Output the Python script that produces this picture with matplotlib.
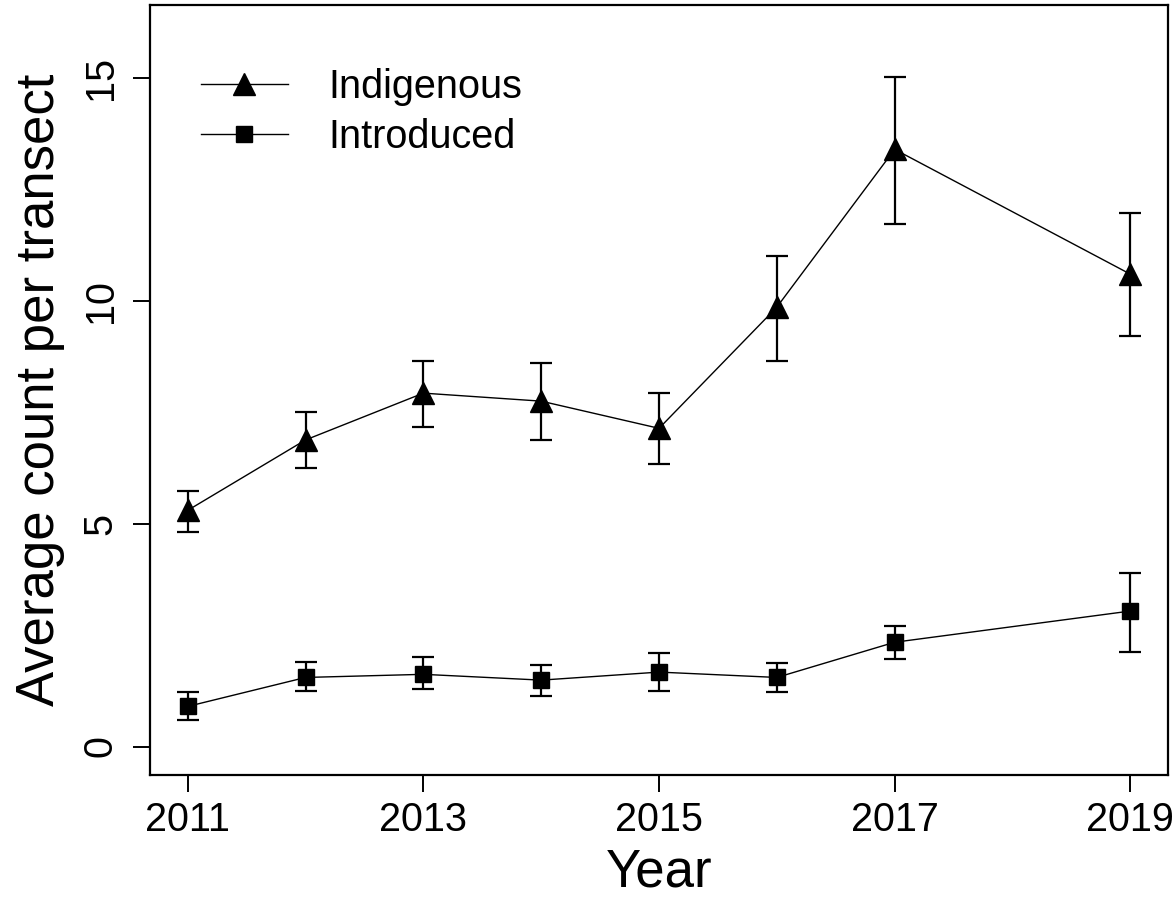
import numpy as np
import matplotlib
matplotlib.use("Agg")
import matplotlib.pyplot as plt

plt.rcParams["font.family"] = ["Liberation Sans", "DejaVu Sans"]

years = [2011, 2012, 2013, 2014, 2015, 2016, 2017, 2019]

# mean count per transect with lower / upper error bar ends
indig_mean = [5.30, 6.88, 7.93, 7.75, 7.14, 9.86, 13.40, 10.60]
indig_lo = [4.82, 6.24, 7.18, 6.87, 6.35, 8.65, 11.72, 9.21]
indig_hi = [5.74, 7.50, 8.65, 8.60, 7.93, 11.01, 15.03, 11.98]

intro_mean = [0.90, 1.55, 1.62, 1.49, 1.67, 1.55, 2.34, 3.04]
intro_lo = [0.59, 1.24, 1.28, 1.13, 1.24, 1.22, 1.96, 2.12]
intro_hi = [1.22, 1.89, 2.00, 1.82, 2.09, 1.88, 2.70, 3.90]

xticks = [2011, 2013, 2015, 2017, 2019]
yticks = [0, 5, 10, 15]

fig = plt.figure(figsize=(11.76, 9.05), dpi=100)
ax = fig.add_axes([0.1276, 0.1436, 0.8656, 0.8509])

def series(mean, lo, hi, marker, ms, label):
    m = np.array(mean)
    err = [m - np.array(lo), np.array(hi) - m]
    ax.errorbar(years, m, yerr=err, fmt="none", ecolor="black",
                elinewidth=1.6, capsize=8, capthick=1.6, zorder=2)
    ax.plot(years, m, "-", color="black", lw=1.0, marker=marker, ms=ms,
            mfc="black", mec="black", label=label, zorder=3)

series(indig_mean, indig_lo, indig_hi, "^", 16, "Indigenous")
series(intro_mean, intro_lo, intro_hi, "s", 11.5, "Introduced")

# R-style 4% padding around the data range
ax.set_xlim(2011 - 0.32, 2019 + 0.32)
ax.set_ylim(0 - 0.64, 16 + 0.64)
ax.set_xticks(xticks)
ax.set_yticks(yticks)
ax.tick_params(axis="both", labelsize=28.5, length=12, width=1.4, pad=7)
ax.tick_params(axis="y", labelrotation=90, pad=10)
for t in ax.get_yticklabels():
    t.set_va("center")
for s in ax.spines.values():
    s.set_linewidth(1.6)

ax.set_xlabel("Year", fontsize=38, labelpad=6)
ax.set_ylabel("Average count per transect", fontsize=38, labelpad=12)

ax.legend(loc="upper left", bbox_to_anchor=(0.034, 0.939), frameon=False,
          fontsize=28.5, handlelength=2.2, handletextpad=1.04, labelspacing=0.3,
          borderaxespad=0)

fig.savefig("out.png", dpi=100)
